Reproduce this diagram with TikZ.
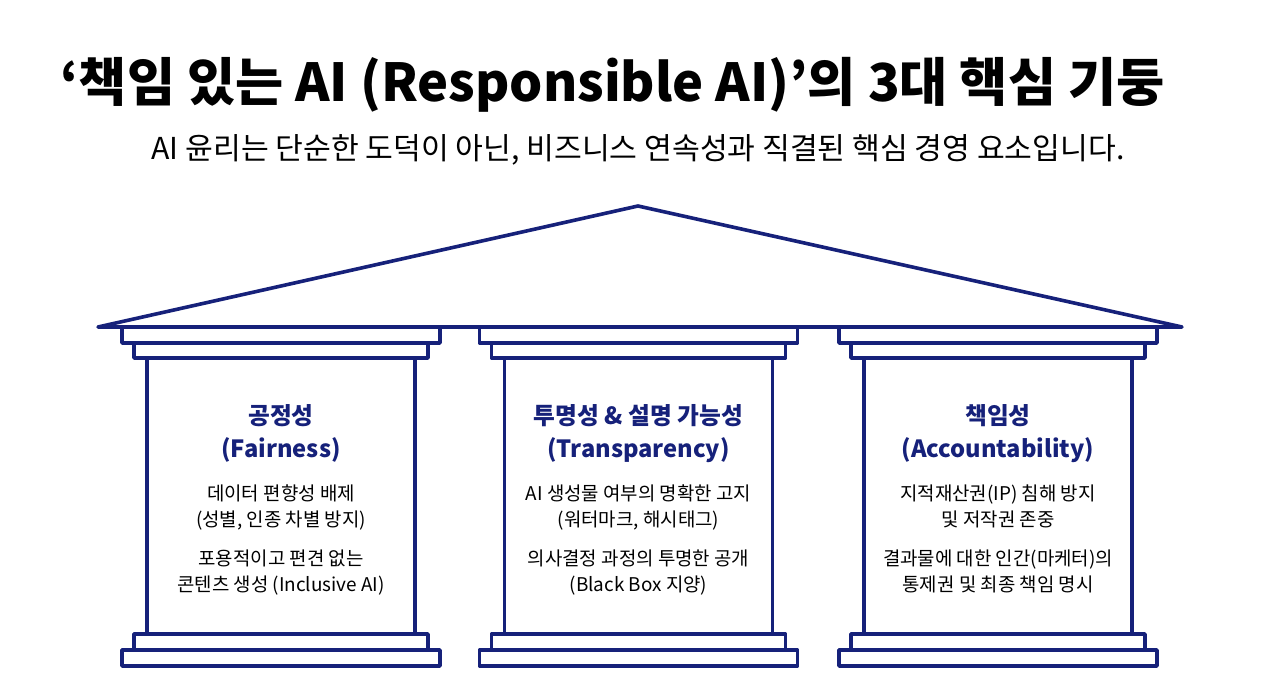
\documentclass[tikz,border=0pt]{standalone}
\usepackage{fontspec}
\setmainfont{Noto Sans CJK KR}
\definecolor{navy}{HTML}{16217A}
\tikzset{
  ln/.style={draw=navy,line width=3.6pt,line join=round,fill=white},
  ttl/.style={font=\fontsize{52.3}{58}\selectfont\bfseries,anchor=base,inner sep=0},
  sub/.style={font=\fontsize{30.2}{34}\selectfont,anchor=base,inner sep=0},
  ptitle/.style={font=\fontsize{23.7}{28}\selectfont\bfseries,text=navy,anchor=base,inner sep=0},
  body/.style={font=\fontsize{18.9}{22}\selectfont,anchor=base,inner sep=0},
}
\newcommand{\pillar}[2]{%
  % #1 = center x, #2 = name
  \draw[ln] (#1-159,327) rectangle (#1+159,343);
  \draw[ln] (#1-147,343) rectangle (#1+147,358);
  \draw[ln] (#1-134,358) rectangle (#1+134,634);
  \draw[ln] (#1-147,634) rectangle (#1+147,650);
  \draw[ln] (#1-159,650) rectangle (#1+159,666);
  \coordinate (#2) at (#1,0);
}
\begin{document}
\begin{tikzpicture}[x=1pt,y=-1pt]
\useasboundingbox (0,0) rectangle (1280,693);
\fill[white] (0,0) rectangle (1280,693);
% roof
\draw[ln,fill=none] (98,327) -- (638,206) -- (1182,327) -- cycle;
\pillar{281}{p1}
\pillar{638.5}{p2}
\pillar{998}{p3}
% title
\node[ttl] (title) at (612.5,101) {‘책임 있는 AI (Responsible AI)’의 3대 핵심 기둥};
\node[sub] (subtitle) at (638,159) {AI 윤리는 단순한 도덕이 아닌, 비즈니스 연속성과 직결된 핵심 경영 요소입니다.};
% pillar 1
\node[ptitle] (t1a) at (p1 |- 0,424) {공정성};
\node[ptitle] (t1b) at (p1 |- 0,457) {(Fairness)};
\node[body] (b1a) at (p1 |- 0,500) {데이터 편향성 배제};
\node[body] (b1b) at (p1 |- 0,526) {(성별, 인종 차별 방지)};
\node[body] (b1c) at (p1 |- 0,565) {포용적이고 편견 없는};
\node[body] (b1d) at (p1 |- 0,591) {콘텐츠 생성 (Inclusive AI)};
% pillar 2
\node[ptitle] (t2a) at (p2 |- 0,424) {투명성 \& 설명 가능성};
\node[ptitle] (t2b) at (p2 |- 0,457) {(Transparency)};
\node[body] (b2a) at (p2 |- 0,500) {AI 생성물 여부의 명확한 고지};
\node[body] (b2b) at (p2 |- 0,526) {(워터마크, 해시태그)};
\node[body] (b2c) at (p2 |- 0,565) {의사결정 과정의 투명한 공개};
\node[body] (b2d) at (p2 |- 0,591) {(Black Box 지양)};
% pillar 3
\node[ptitle] (t3a) at (p3 |- 0,424) {책임성};
\node[ptitle] (t3b) at (p3 |- 0,457) {(Accountability)};
\node[body] (b3a) at (p3 |- 0,500) {지적재산권(IP) 침해 방지};
\node[body] (b3b) at (p3 |- 0,526) {및 저작권 존중};
\node[body] (b3c) at (p3 |- 0,565) {결과물에 대한 인간(마케터)의};
\node[body] (b3d) at (p3 |- 0,591) {통제권 및 최종 책임 명시};
\end{tikzpicture}
\end{document}
